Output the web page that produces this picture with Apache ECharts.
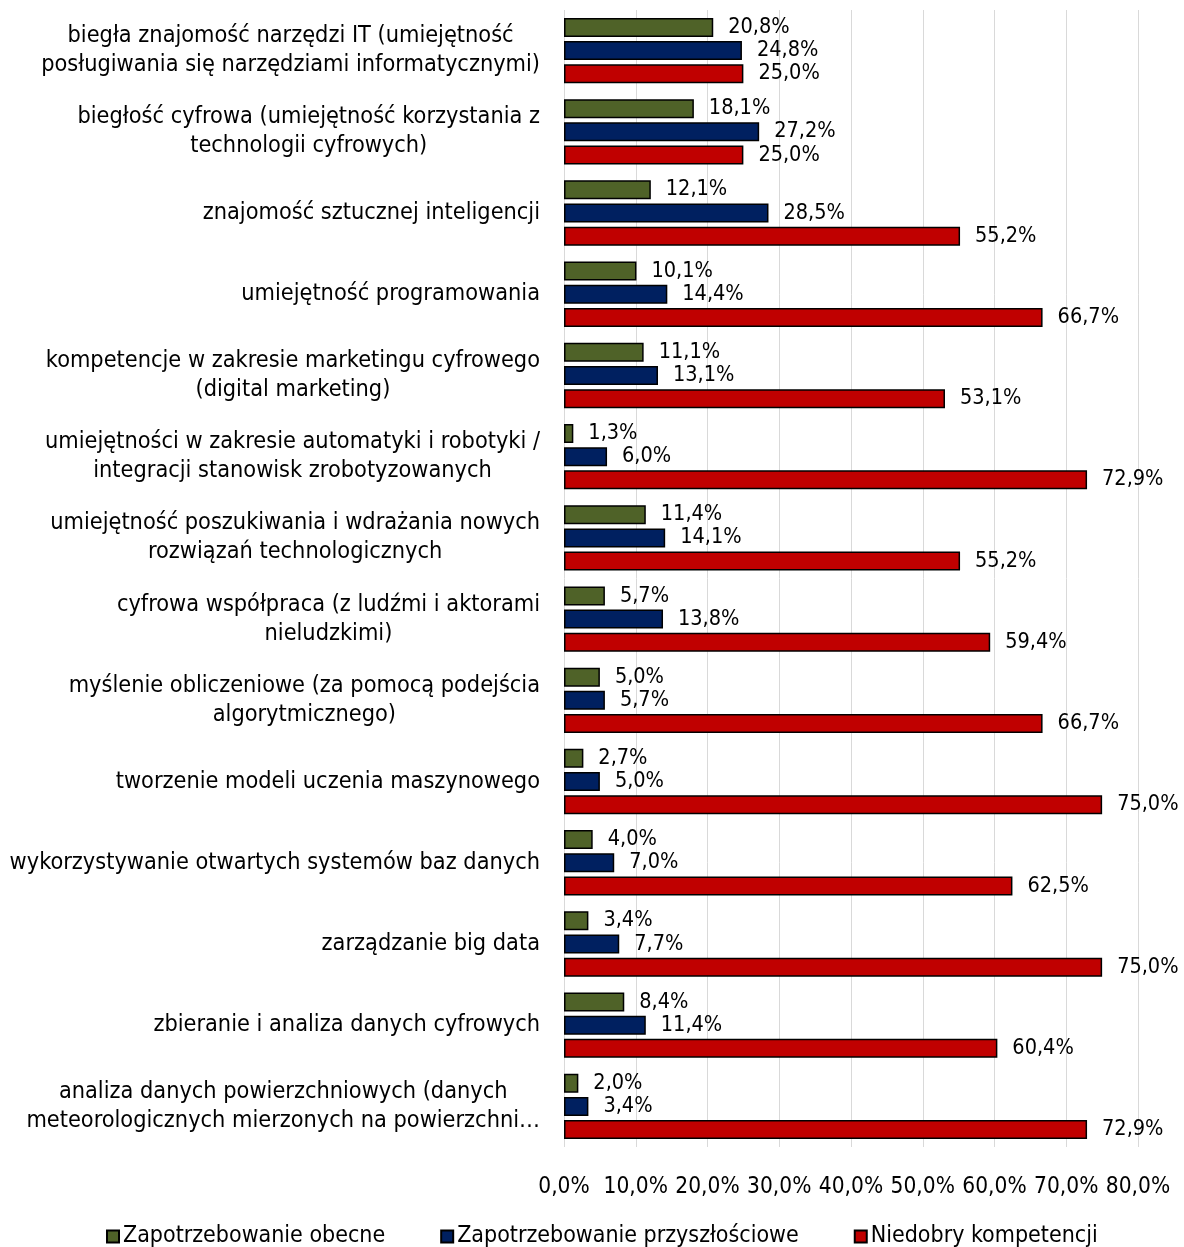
<!DOCTYPE html>
<html><head><meta charset="utf-8">
<script src="https://cdn.jsdelivr.net/npm/echarts@6/dist/echarts.min.js"></script>
<style>html,body{margin:0;padding:0;background:#fff}#c{width:1184px;height:1247px}</style>
</head><body><div id="c"></div>
<script>
const categories = [
  "biegła znajomość narzędzi IT (umiejętność\nposługiwania się narzędziami informatycznymi)",
  "biegłość cyfrowa (umiejętność korzystania z\ntechnologii cyfrowych)",
  "znajomość sztucznej inteligencji",
  "umiejętność programowania",
  "kompetencje w zakresie marketingu cyfrowego\n(digital marketing)",
  "umiejętności w zakresie automatyki i robotyki /\nintegracji stanowisk zrobotyzowanych",
  "umiejętność poszukiwania i wdrażania nowych\nrozwiązań technologicznych",
  "cyfrowa współpraca (z ludźmi i aktorami\nnieludzkimi)",
  "myślenie obliczeniowe (za pomocą podejścia\nalgorytmicznego)",
  "tworzenie modeli uczenia maszynowego",
  "wykorzystywanie otwartych systemów baz danych",
  "zarządzanie big data",
  "zbieranie i analiza danych cyfrowych",
  "analiza danych powierzchniowych (danych\nmeteorologicznych mierzonych na powierzchni…"
];
const seriesNames = ["Zapotrzebowanie obecne", "Zapotrzebowanie przyszłościowe", "Niedobry kompetencji"];
const obecne = [20.8, 18.1, 12.1, 10.1, 11.1, 1.3, 11.4, 5.7, 5.0, 2.7, 4.0, 3.4, 8.4, 2.0];
const przyszlosciowe = [24.8, 27.2, 28.5, 14.4, 13.1, 6.0, 14.1, 13.8, 5.7, 5.0, 7.0, 7.7, 11.4, 3.4];
const niedobory = [25.0, 25.0, 55.2, 66.7, 53.1, 72.9, 55.2, 59.4, 66.7, 75.0, 62.5, 75.0, 60.4, 72.9];
const xTicks = [0, 10, 20, 30, 40, 50, 60, 70, 80];
const colors = ["#4F6228", "#002060", "#C00000"];

const FONT = "DejaVu Sans Condensed";
const fmt = v => v.toFixed(1).replace('.', ',') + '%';

const chart = echarts.init(document.getElementById('c'), null, {renderer: 'canvas'});
const values = [obecne, przyszlosciowe, niedobory];
chart.setOption({
  animation: false,
  textStyle: {fontFamily: FONT, color: '#000'},
  grid: {left: 564, right: 46, top: 10, bottom: 100, containLabel: false},
  legend: {
    top: 1220, left: 101, itemWidth: 12, itemHeight: 12, itemGap: 55,
    icon: 'rect',
    textStyle: {fontFamily: FONT, fontSize: 23, color: '#000', padding: [0, 0, 0, -1]},
    data: seriesNames
  },
  xAxis: {
    type: 'value', min: xTicks[0], max: xTicks[xTicks.length - 1], interval: 10,
    axisLine: {show: false}, axisTick: {show: false},
    splitLine: {show: true, lineStyle: {color: '#d9d9d9', width: 1}},
    axisLabel: {fontFamily: FONT, fontSize: 22.5, color: '#000', margin: 29,
      formatter: v => fmt(v)}
  },
  yAxis: {
    type: 'category', inverse: true, data: categories,
    axisLine: {show: false}, axisTick: {show: false},
    axisLabel: {
      margin: 24, align: 'right', lineHeight: 29,
      fontFamily: FONT, fontSize: 23.3, color: '#000',
      formatter: v => v.split('\n').map(l => '{c|' + l + '}').join('\n'),
      rich: {c: {align: 'center', fontFamily: FONT, fontSize: 23.3, lineHeight: 29, color: '#000'}}
    }
  },
  series: seriesNames.map((n, i) => ({
    name: n, type: 'bar', data: values[i],
    barWidth: 19, barGap: '22%',
    itemStyle: {color: colors[i], borderColor: '#000', borderWidth: 1.5},
    label: {show: true, position: 'right', distance: 15, fontFamily: FONT, fontSize: 21.5, color: '#000',
      formatter: p => fmt(p.value)}
  }))
});
</script></body></html>
